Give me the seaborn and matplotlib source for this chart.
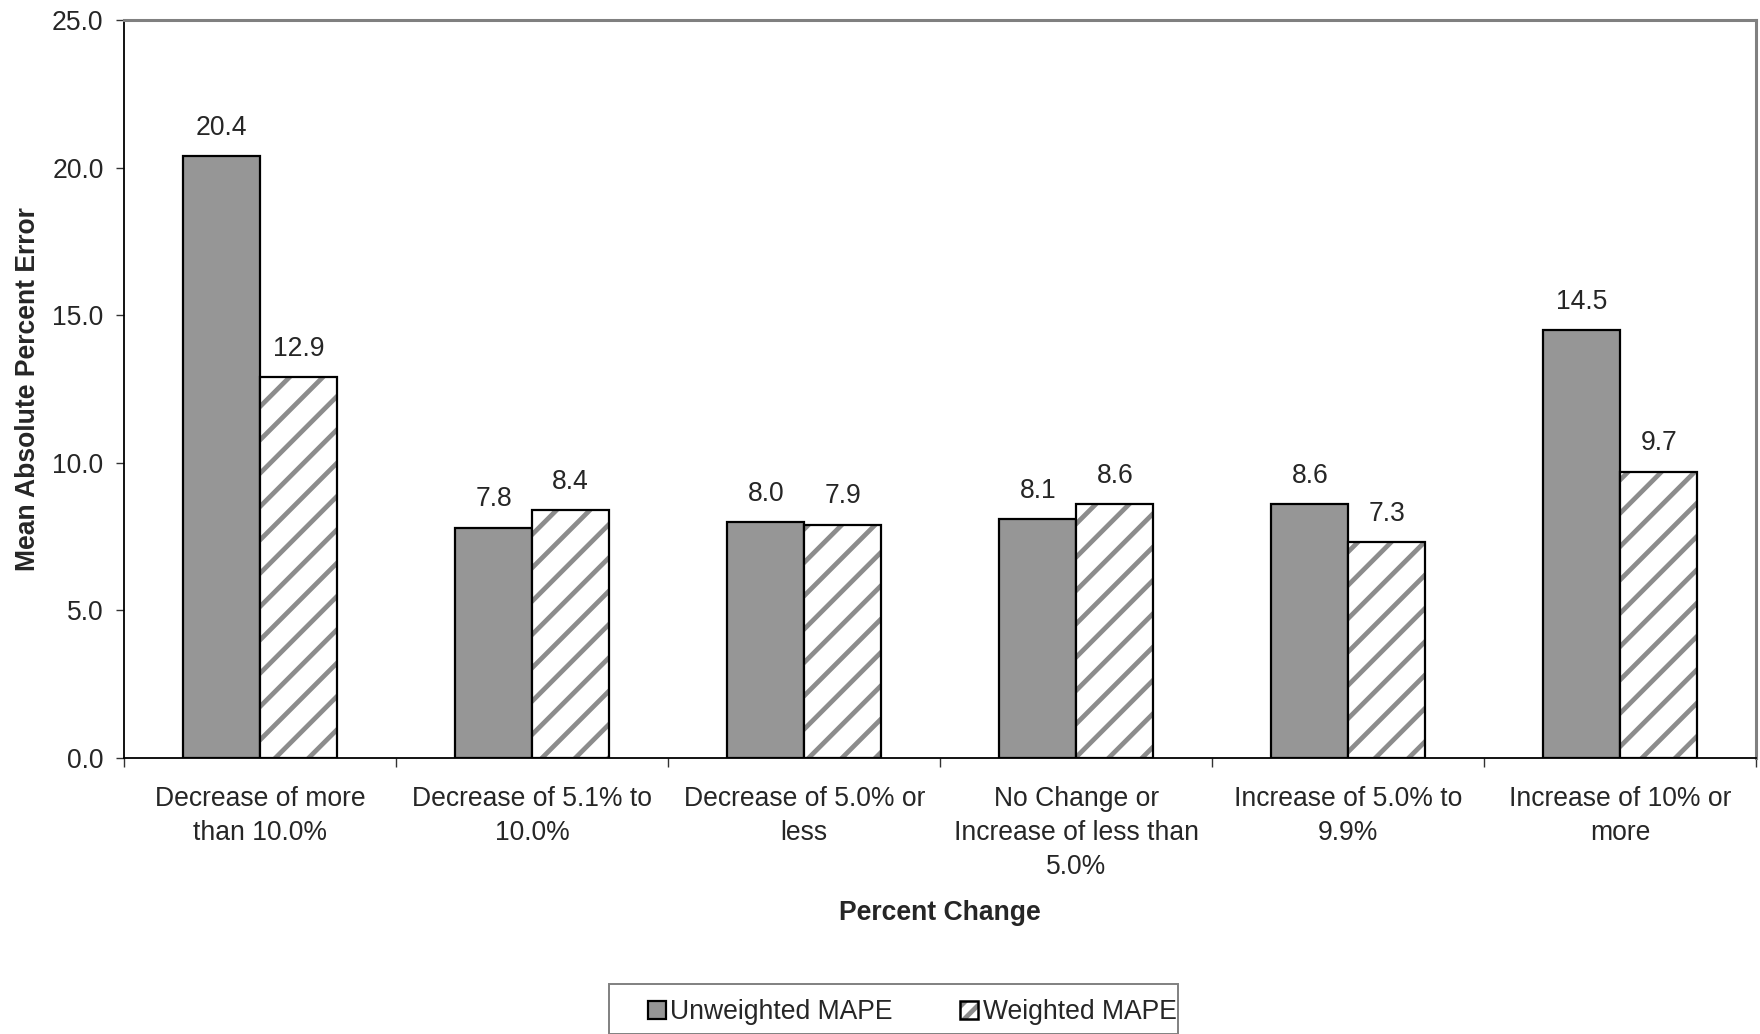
import matplotlib
matplotlib.use("Agg")
import matplotlib.pyplot as plt
from matplotlib.patches import Patch, Rectangle
from matplotlib.ticker import FixedLocator, FormatStrFormatter
import seaborn as sns
import pandas as pd

categories = [
    "Decrease of more\nthan 10.0%",
    "Decrease of 5.1% to\n10.0%",
    "Decrease of 5.0% or\nless",
    "No Change or\nIncrease of less than\n5.0%",
    "Increase of 5.0% to\n9.9%",
    "Increase of 10% or\nmore",
]
series_names = ["Unweighted MAPE", "Weighted MAPE"]
unweighted = [20.4, 7.8, 8.0, 8.1, 8.6, 14.5]
weighted = [12.9, 8.4, 7.9, 8.6, 7.3, 9.7]
y_ticks = [0, 5, 10, 15, 20, 25]

sns.set_style("white")
plt.rcParams["font.family"] = ["Liberation Sans", "DejaVu Sans"]
plt.rcParams["hatch.linewidth"] = 3.4

BAR_GRAY = "#969696"
HATCH_GRAY = "#8c8c8c"
FONT = 19.1

df = pd.DataFrame({
    "category": categories * 2,
    "series": [series_names[0]] * len(categories) + [series_names[1]] * len(categories),
    "value": unweighted + weighted,
})

fig = plt.figure(figsize=(17.6, 10.34), dpi=100)
ax = fig.add_axes([0.0705, 0.267, 0.9275, 0.7136])

sns.barplot(
    data=df, x="category", y="value", hue="series", order=categories,
    hue_order=series_names, palette=[BAR_GRAY, "white"], width=0.566,
    edgecolor="black", linewidth=1.6, errorbar=None, legend=False, ax=ax,
)

# Hatch the weighted bars with gray stripes and redraw a black outline on top
n = len(categories)
bars = list(ax.patches)[: 2 * n]
for bar in bars[n:]:
    bar.set_hatch("/")
    bar.set_edgecolor(HATCH_GRAY)
    bar.set_linewidth(0)
    ax.add_patch(Rectangle(bar.get_xy(), bar.get_width(), bar.get_height(),
                           fill=False, edgecolor="black", linewidth=1.6,
                           zorder=bar.get_zorder() + 0.1))

# Value labels above each bar
for bar in bars:
    h = bar.get_height()
    ax.annotate(f"{h:.1f}", (bar.get_x() + bar.get_width() / 2, h),
                xytext=(0, 11), textcoords="offset points",
                ha="center", va="bottom", fontsize=FONT)

ax.set_ylim(0, 25)
ax.set_xlim(-0.5, n - 0.5)
ax.yaxis.set_major_locator(FixedLocator(y_ticks))
ax.yaxis.set_major_formatter(FormatStrFormatter("%.1f"))
ax.tick_params(axis="y", which="major", left=True, length=5.8, width=1, direction="out",
               labelsize=FONT, pad=9, color="#333333")
ax.tick_params(axis="x", which="major", length=0, labelsize=FONT, pad=20)
ax.xaxis.set_minor_locator(FixedLocator([i - 0.5 for i in range(n + 1)]))
ax.tick_params(axis="x", which="minor", bottom=True, length=6.5, width=1, direction="out",
               color="#333333")
for lbl in ax.get_xticklabels():
    lbl.set_linespacing(1.42)

for side in ["left", "bottom"]:
    ax.spines[side].set_color("black")
    ax.spines[side].set_linewidth(1.3)
for side in ["top", "right"]:
    ax.spines[side].set_color("#808080")
    ax.spines[side].set_linewidth(2.2)

ax.set_xlabel("Percent Change", fontsize=FONT, fontweight="bold", labelpad=14)
ax.set_ylabel("Mean Absolute Percent Error", fontsize=FONT, fontweight="bold", labelpad=8)

# Legend: plain gray swatch and a gray-striped swatch with a black outline
solid_handle = Patch(facecolor=BAR_GRAY, edgecolor="black", linewidth=1.6)
striped_handle = (
    Patch(facecolor="white", edgecolor=HATCH_GRAY, hatch="//", linewidth=0),
    Patch(fill=False, edgecolor="black", linewidth=1.8),
)
leg = fig.legend([solid_handle, striped_handle], series_names,
                 loc="center left", bbox_to_anchor=(0.368, 0.0213),
                 ncol=2, fontsize=FONT, frameon=False,
                 handlelength=0.68, handleheight=0.68, handletextpad=0.17,
                 columnspacing=2.55, borderpad=0, borderaxespad=0)
fig.patches.append(Rectangle((0.346, 0.0), 0.3233, 0.0484, transform=fig.transFigure,
                             fill=False, edgecolor="#808080", linewidth=1.4, figure=fig))

fig.savefig("out.png", dpi=100)
